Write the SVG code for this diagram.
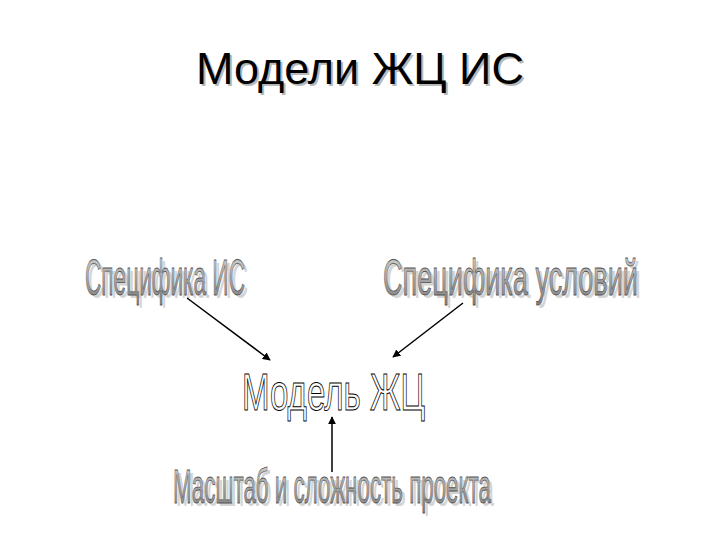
<svg xmlns="http://www.w3.org/2000/svg" width="720" height="540" viewBox="0 0 720 540">
<defs>
<linearGradient id="wa" x1="0" y1="0" x2="0" y2="1">
<stop offset="0" stop-color="#d8d8d8"/>
<stop offset="0.5" stop-color="#a8a8a8"/>
<stop offset="1" stop-color="#7a7a7a"/>
</linearGradient>
<marker id="ah" viewBox="0 0 10 10" refX="9" refY="5" markerWidth="8" markerHeight="8" markerUnits="userSpaceOnUse" orient="auto">
<path d="M0,0 L10,5 L0,10 z" fill="#000"/>
</marker>
</defs>
<style>
.title{font-family:"Liberation Sans",Arial,sans-serif;font-size:45px}
.wa{font-family:"Liberation Sans",Arial,sans-serif;fill:url(#wa);stroke:#555;stroke-width:0.8}
.sh{font-family:"Liberation Sans",Arial,sans-serif;fill:#d4d4d4}
.ol{font-family:"Liberation Sans",Arial,sans-serif;fill:#fff;stroke:#000;stroke-width:1}
.con line{stroke:#000;stroke-width:1.5}
</style>
<rect width="720" height="540" fill="#fff"/>
<g id="title">
<text class="title" x="362" y="86" text-anchor="middle" fill="#b8b8b8">Модели ЖЦ ИС</text>
<text class="title" x="360" y="84" text-anchor="middle" fill="#000">Модели ЖЦ ИС</text>
</g>
<g id="node-spec-is">
<text class="sh" x="88" y="298" font-size="50" textLength="160" lengthAdjust="spacingAndGlyphs">Специфика ИС</text>
<text class="wa" x="85" y="295" font-size="50" textLength="160" lengthAdjust="spacingAndGlyphs">Специфика ИС</text>
</g>
<g id="node-spec-usl">
<text class="sh" x="386" y="298" font-size="50" textLength="255" lengthAdjust="spacingAndGlyphs">Специфика условий</text>
<text class="wa" x="383" y="295" font-size="50" textLength="255" lengthAdjust="spacingAndGlyphs">Специфика условий</text>
</g>
<g id="node-model">
<text class="ol" x="242" y="410" font-size="52" textLength="183" lengthAdjust="spacingAndGlyphs">Модель ЖЦ</text>
</g>
<g id="node-scale">
<text class="sh" x="176" y="506" font-size="49" textLength="318" lengthAdjust="spacingAndGlyphs">Масштаб и сложность проекта</text>
<text class="wa" x="173" y="503" font-size="49" textLength="318" lengthAdjust="spacingAndGlyphs">Масштаб и сложность проекта</text>
</g>
<g id="connectors" class="con">
<line x1="187" y1="298" x2="270" y2="360" marker-end="url(#ah)"/>
<line x1="463" y1="303" x2="393" y2="357" marker-end="url(#ah)"/>
<line x1="332" y1="472" x2="332" y2="417" marker-end="url(#ah)"/>
</g>
</svg>
